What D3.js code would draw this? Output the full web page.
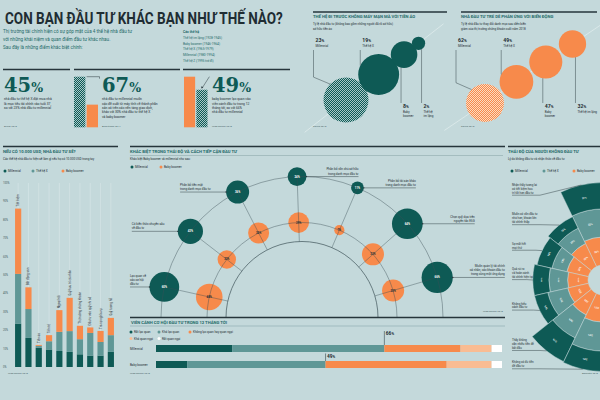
<!DOCTYPE html>
<html>
<head>
<meta charset="utf-8">
<script src="https://d3js.org/d3.v7.min.js"></script>
<style>
  body { margin: 0; background: #c4d9db; }
  svg { display: block; font-family: Roboto, 'Noto Sans', sans-serif; }
</style>
</head>
<body>
<svg id="chart" width="600" height="400"></svg>
<script>
'use strict'

// ---- data ----
const generations = ['Thế hệ im lặng (1928-1945)', 'Baby boomer (1946-1964)', 'Thế hệ X (1965-1979)', 'Millennial (1980-1994)', 'Thế hệ Z (1995 trở đi)']

const stats = ['45', '67', '49']
const statNotes = [
  'nhà đầu tư thế hệ X đặt mua nhà|là mục tiêu tài chính vào tuổi 37,|so với 23% nhà đầu tư millennial',
  'nhà đầu tư millennial muốn|các đề xuất từ máy tính về thành phần|sẵn có trên các nền tảng giao dịch,|khác với 30% nhà đầu tư thế hệ X|và baby boomer',
  'baby boomer lạc quan vào|viễn cảnh đầu tư trong 12|tháng tới, so với 66%|nhà đầu tư millennial'
]
const statSources = ['Zillow 2018', 'Ameritrade 2017', 'Legg Mason 2018']
const roboBars = [67, 30]
const optimismBars = [66, 49]

const bubbleGroups = ['Millennial', 'Thế hệ X', 'Baby|boomer', 'Thế hệ|im lặng']
const cryptoShare = [23, 19, 8, 2]
const reactShare = [62, 49, 47, 32]

const spendCats = ['Tiết kiệm', 'Bất động sản', 'Tiền ảo', 'Tiền tệ', 'Ngoại hối', 'Quỹ hưu trí cá nhân', 'Thị trường chứng khoán', 'Đầu tư vào quỹ chỉ số', 'Trả nợ nghĩa vụ', 'Quỹ tương hỗ']
const spendMillennial = [23.6, 15.8, 10.4, 9.5, 8.7, 8.2, 6.9, 6.2, 6.2, 8.2]
const spendGenX = [27, 15.7, 1.1, 4.5, 10.4, 11.3, 8.2, 12.3, 7.4, 9.1]
const spendBoomer = [35.5, 11.8, 0.5, 3.3, 11.8, 18.1, 7.3, 3.0, 6.0, 9.4]
const pctTicks = [0, 10, 20, 30, 40, 50, 60, 70, 80, 90, 100]

const attitudes = [
  'Lạc quan về|các cơ hội|đầu tư',
  'Có kiến thức chuyên sâu|về đầu tư',
  'Phân bổ tiền mặt|trong danh mục đầu tư',
  'Phân bổ vốn chủ sở hữu|trong danh mục đầu tư',
  'Phân bổ tài sản khác|trong danh mục đầu tư',
  'Chọn quỹ dựa trên|nguyên tắc ESG',
  'Muốn quản lý tài chính|cá nhân, các khoản đầu tư|trong cùng một ứng dụng'
]
const attMillennial = [60, 43, 36, 24, 11, 64, 66]
const attBoomer = [48, 23, 30, 29, 7, 33, 33]

const outlookLevels = ['Rất lạc quan', 'Khá lạc quan', 'Không lạc quan hay quan ngại', 'Khá quan ngại', 'Rất quan ngại']
const outlookRows = ['Millennial', 'Baby boomer']
const outlookMillennial = [22, 44, 22, 9, 3]
const outlookBoomer = [9, 40, 35, 13, 3]

const reasons = [
  'Nhận thấy tương lai|có tiết kiệm hưu|trí tốt hơn đầu tư',
  'Muốn có vốn đầu tư|nhỏ hơn, khoản lớn|tài chính thấp',
  'Sợ mất hết|mọi thứ',
  'Quá rủi ro|và hoàn cảnh|tài chính hiện tại',
  'Không hiểu|cách đầu tư',
  'Thấy không|cần nhiều tiền để|bắt đầu',
  'Không có đủ tiền|để đầu tư'
]
const reasonBoomer = [33, 30, 26, 24, 25, 28, 32]
const reasonGenX = [33, 20, 18, 22, 24, 30, 34]
const reasonMillennial = [31, 15, 18, 19, 16, 31, 24]

// ---- styles ----
const DARK = '#0e5a55'
const MID = '#5f9796'
const ORANGE = '#f78a4b'
const LIGHT = '#f9bc93'
const INK = '#1f2d33'
const TEAL_TXT = '#1f6a69'
const LINE = '#26353b'
const BG = '#c4d9db'

const svg = d3.select('#chart')
const defs = svg.append('defs')

function checker (id, base, dot) {
  const p = defs.append('pattern').attr('id', id).attr('width', 2).attr('height', 2).attr('patternUnits', 'userSpaceOnUse')
  p.append('rect').attr('width', 2).attr('height', 2).attr('fill', base)
  p.append('rect').attr('width', 1).attr('height', 1).attr('fill', dot)
  p.append('rect').attr('x', 1).attr('y', 1).attr('width', 1).attr('height', 1).attr('fill', dot)
}
checker('hatchTeal', DARK, '#a9c8c8')
checker('hatchOrange', ORANGE, '#fcdcc2')

function lines (g, x, y, txt, o) {
  const t = g.append('text').attr('x', x).attr('y', y)
    .attr('font-size', o.size).attr('fill', o.fill || INK)
    .attr('text-anchor', o.anchor || 'start')
    .attr('font-weight', o.weight || 400)
  txt.split('|').forEach((s, i) => t.append('tspan').attr('x', x).attr('dy', i ? o.lh : 0).text(s))
  return t
}

function rule (x, y, w, width, color) {
  svg.append('line').attr('x1', x).attr('x2', x + w).attr('y1', y).attr('y2', y)
    .attr('stroke', color || LINE).attr('stroke-width', width || 1.5)
}

function header (x, y, w, title, sub) {
  rule(x, y, w)
  svg.append('text').attr('x', x).attr('y', y + 6.1).attr('font-size', 4.2).attr('font-weight', 700)
    .attr('fill', TEAL_TXT).text(title)
  lines(svg, x, y + 13.3, sub, { size: 3, lh: 4.5 })
}

function legend (x, y, items) {
  items.forEach(it => {
    svg.append('circle').attr('cx', x + it.dx).attr('cy', y).attr('r', 1.5).attr('fill', it.color)
    svg.append('text').attr('x', x + it.dx + 3).attr('y', y + 1.1).attr('font-size', 3).attr('fill', INK).text(it.label)
  })
}

function source (x, y, txt, anchor) {
  svg.append('text').attr('x', x).attr('y', y).attr('font-size', 2.5).attr('fill', '#4a6568')
    .attr('text-anchor', anchor || 'start').text(txt)
}

// ---- title block ----
// squeeze the headline horizontally so it ends where the reference's does
const headline = svg.append('text').attr('x', 0).attr('y', 0).attr('font-size', 17).attr('font-weight', 700)
  .attr('fill', INK).text('CON BẠN ĐẦU TƯ KHÁC BẠN NHƯ THẾ NÀO?')
const natural = headline.node().getComputedTextLength()
headline.attr('transform', `translate(5,24) scale(${278 / natural},1)`)

lines(svg, 3, 32.5, 'Thị trường tài chính hiện có sự góp mặt của 4 thế hệ nhà đầu tư|với những khái niệm và quan điểm đầu tư khác nhau.|Sau đây là những điểm khác biệt chính:',
  { size: 4.6, lh: 8.3, fill: TEAL_TXT })
svg.append('text').attr('x', 183).attr('y', 33.3).attr('font-size', 3.4).attr('font-weight', 700)
  .attr('fill', TEAL_TXT).text('Các thế hệ')
lines(svg, 183, 39, generations.join('|'), { size: 3.2, lh: 5.65, fill: TEAL_TXT })

// ---- stat panels ----
function statPanel (i, x0, w, tx) {
  rule(x0, 69.5, w)
  const t = svg.append('text').attr('x', tx).attr('y', 92).attr('font-family', "'DejaVu Serif', serif")
    .attr('font-weight', 700).attr('fill', DARK)
  t.append('tspan').attr('font-size', 19.5).text(stats[i])
  t.append('tspan').attr('font-size', 12.5).text('%')
  lines(svg, tx, 100.3, statNotes[i], { size: 3.3, lh: 4.3 })
  source(tx, 126.5, statSources[i])
}
statPanel(0, 3, 67, 4)
statPanel(1, 74, 106, 102)
statPanel(2, 183, 107, 212)

function panelBars (vals, x0, x1, fills) {
  const bx = d3.scaleBand().domain(d3.range(vals.length)).range([x0, x1]).paddingInner(0.1)
  const h = d3.scaleLinear().domain([0, d3.max(vals)]).range([0, 50.6])
  svg.append('g').selectAll('rect').data(vals).join('rect')
    .attr('x', (d, i) => bx(i)).attr('width', bx.bandwidth())
    .attr('y', d => 127.3 - h(d)).attr('height', d => h(d))
    .attr('fill', (d, i) => fills[i])
  return { bx, h }
}
const p2 = panelBars(roboBars, 74, 98, ['url(#hatchTeal)', ORANGE])
const top2 = 127.3 - p2.h(roboBars[0])
svg.append('path').attr('d', `M${p2.bx(1)},${top2}H${99.5}v2`).attr('fill', 'none').attr('stroke', LINE).attr('stroke-width', 0.5)
const p3 = panelBars(optimismBars, 184, 207.5, [ORANGE, 'url(#hatchTeal)'])
const top3 = 127.3 - p3.h(optimismBars[1])
svg.append('path').attr('d', `M${p3.bx(1) + 13},${127.3 - p3.h(optimismBars[0])}L${p3.bx(1) + 6},${top3 - 2}`)
  .attr('fill', 'none').attr('stroke', LINE).attr('stroke-width', 0.5)
svg.append('path').attr('d', `M${p3.bx(1) + 4.6},${top3 - 3.2}l2.4,0.5l-1.6,1.8z`).attr('fill', LINE)

// ---- bubble charts ----
function bubbles (x0, w, title, sub, vals, color, hatch, start, deg, gap, maxR, src, oneLineLast) {
  header(x0, 12, w, title, sub)
  const r = d3.scaleSqrt().domain([0, d3.max(vals)]).range([0, maxR])
  const a = deg * Math.PI / 180
  const dir = [Math.cos(a), -Math.sin(a)]
  const pts = []
  vals.forEach((v, i) => {
    if (i === 0) pts.push({ x: start[0], y: start[1], r: r(v) })
    else {
      const p = pts[i - 1]
      const d = p.r + r(v) + gap
      pts.push({ x: p.x + d * dir[0], y: p.y + d * dir[1], r: r(v) })
    }
  })
  const f = pts[0]
  const l = pts[pts.length - 1]
  svg.append('line')
    .attr('x1', f.x - dir[0] * (f.r + 30)).attr('y1', f.y - dir[1] * (f.r + 30))
    .attr('x2', l.x + dir[0] * (l.r + 25)).attr('y2', l.y + dir[1] * (l.r + 25))
    .attr('stroke', '#e8f1f2').attr('stroke-width', 0.6)
  svg.append('g').selectAll('circle').data(pts).join('circle')
    .attr('cx', d => d.x).attr('cy', d => d.y).attr('r', d => d.r)
    .attr('fill', (d, i) => i === 0 ? hatch : color)

  const lead = svg.append('g').attr('fill', 'none').attr('stroke', LINE).attr('stroke-width', 0.45)
  pts.forEach((p, i) => {
    let lx, ly, path
    if (i === 0) {
      lx = p.x - p.r - 10; ly = 42
      path = `M${lx},${ly + 8}V${p.y - p.r * 0.75 - 6}L${p.x - p.r * 0.707},${p.y - p.r * 0.707}`
    } else if (i === 1) {
      lx = p.x - p.r * 0.9; ly = 42
      path = `M${lx},${ly + 8}V${p.y - p.r * 0.436}`
    } else {
      const dx = i === 2 ? -3 : 3
      lx = p.x + dx; ly = 108
      path = `M${lx},${p.y + Math.sqrt(p.r * p.r - dx * dx)}V${ly - 5}`
    }
    lead.append('path').attr('d', path)
    const t = svg.append('text').attr('x', lx + 2).attr('y', ly).attr('fill', INK).attr('font-weight', 700)
    t.append('tspan').attr('font-size', 5.2).text(vals[i])
    t.append('tspan').attr('font-size', 3.8).text('%')
    const name = (oneLineLast && i === 3) ? bubbleGroups[i].replace('|', ' ') : bubbleGroups[i]
    lines(svg, lx + 2, ly + 5, name, { size: 3, lh: 3.8 })
  })
  source(x0, 126.5, src)
}
bubbles(313, 134, 'THẾ HỆ ĐI TRƯỚC KHÔNG MẤY MẶN MÀ VỚI TIỀN ẢO',
  'Tỷ lệ nhà đầu tư (không bao gồm những người đã rõ sở hữu)|sở hữu tiền ảo',
  cryptoShare, DARK, 'url(#hatchTeal)', [346, 100], 38, -1.5, 22.5, 'Gallup 2018', false)
bubbles(461, 136, 'NHÀ ĐẦU TƯ TRẺ DỄ PHẢN ỨNG VỚI BIẾN ĐỘNG',
  'Tỷ lệ nhà đầu tư thay đổi danh mục sau diễn biến|giảm của thị trường chứng khoán cuối năm 2018',
  reactShare, ORANGE, 'url(#hatchOrange)', [485, 103], 34, 2, 19, 'Gallup 2018', true)

// ---- stacked bars: 10.000 USD ----
header(3, 146.5, 115, 'NẾU CÓ 10.000 USD, NHÀ ĐẦU TƯ SẼ?', 'Các thế hệ nhà đầu tư hiện sẽ làm gì nếu họ có 10.000 USD trong tay')
legend(3, 171, [{ label: 'Millennial', color: DARK, dx: 2 }, { label: 'Thế hệ X', color: MID, dx: 30 }, { label: 'Baby boomer', color: ORANGE, dx: 60 }])
const catX = d3.scaleBand().domain(spendCats).range([13, 116]).paddingInner(0.4).paddingOuter(0.2)
const pctY = d3.scaleLinear().domain([0, 100]).range([367, 183])
const spendRows = spendCats.map((c, i) => ({ cat: c, m: spendMillennial[i], x: spendGenX[i], b: spendBoomer[i] }))
const spendStack = d3.stack().keys(['m', 'x', 'b'])(spendRows)
const barCol = { m: DARK, x: MID, b: ORANGE }

svg.append('g').selectAll('line').data(spendCats).join('line')
  .attr('x1', d => catX(d) + catX.bandwidth() / 2).attr('x2', d => catX(d) + catX.bandwidth() / 2)
  .attr('y1', pctY(0)).attr('y2', pctY(100)).attr('stroke', '#dce9ea').attr('stroke-width', 0.5)
svg.append('g').selectAll('text').data(pctTicks).join('text')
  .attr('x', 3).attr('y', d => pctY(d) + 1).attr('font-size', 2.7).attr('fill', '#44605f').text(d => d + '%')
svg.append('g').selectAll('g').data(spendStack).join('g').attr('fill', s => barCol[s.key])
  .selectAll('rect').data(s => s).join('rect')
  .attr('x', d => catX(d.data.cat)).attr('width', catX.bandwidth())
  .attr('y', d => pctY(d[1])).attr('height', d => pctY(d[0]) - pctY(d[1]))
svg.append('g').selectAll('text').data(spendRows).join('text')
  .attr('transform', d => `translate(${catX(d.cat) + catX.bandwidth() / 2 + 1},${pctY(d.m + d.x + d.b) - 2}) rotate(-90)`)
  .attr('font-size', 3).attr('fill', INK).text(d => d.cat)
source(8, 374, 'Legg Mason 2018')

// ---- attitude arcs ----
header(130, 146.5, 375, 'KHÁC BIỆT TRONG THÁI ĐỘ VÀ CÁCH TIẾP CẬN ĐẦU TƯ', 'Khác biệt Baby boomer và millennial như sau:')
rule(130, 155.5, 373, 0.6, '#8eaaac')
legend(130, 167, [{ label: 'Millennial', color: DARK, dx: 2 }, { label: 'Baby boomer', color: ORANGE, dx: 31 }])

const ac = { x: 302, y: 317.5 }
const ringR = [76, 95, 141]
const angle = d3.scalePoint().domain(attitudes).range([167.5, 16.5])
const bubbleR = d3.scaleSqrt().domain([0, 100]).range([0, 19.2])
const pos = (d, r) => {
  const a = angle(d) * Math.PI / 180
  return [ac.x + r * Math.cos(a), ac.y - r * Math.sin(a)]
}
const arcG = svg.append('g')
attitudes.forEach((d, i) => {
  const [mx, my] = pos(d, ringR[2])
  const [bx, by] = pos(d, ringR[1])
  arcG.append('circle').attr('cx', mx).attr('cy', my).attr('r', bubbleR(attMillennial[i])).attr('fill', DARK)
  arcG.append('circle').attr('cx', bx).attr('cy', by).attr('r', bubbleR(attBoomer[i])).attr('fill', ORANGE)
})
ringR.forEach((r, i) => {
  const p = d3.path()
  p.moveTo(ac.x - r, ac.y)
  p.arc(ac.x, ac.y, r, Math.PI, 2 * Math.PI)
  arcG.append('path').attr('d', p.toString()).attr('fill', 'none')
    .attr('stroke', '#3a4f55').attr('stroke-width', i === 0 ? 0.8 : 0.5).attr('opacity', 0.85)
})
attitudes.forEach(d => {
  const [x1, y1] = pos(d, ringR[2])
  const [x2, y2] = pos(d, ringR[0])
  arcG.append('line').attr('x1', x1).attr('y1', y1).attr('x2', x2).attr('y2', y2)
    .attr('stroke', '#3a4f55').attr('stroke-width', 0.5).attr('opacity', 0.8)
})
attitudes.forEach((d, i) => {
  const [mx, my] = pos(d, ringR[2])
  const [bx, by] = pos(d, ringR[1])
  arcG.append('text').attr('x', mx).attr('y', my + 1).attr('text-anchor', 'middle').attr('font-size', 2.8)
    .attr('font-weight', 700).attr('fill', '#fff').text(attMillennial[i] + '%')
  arcG.append('text').attr('x', bx).attr('y', by + 1).attr('text-anchor', 'middle').attr('font-size', 2.8)
    .attr('font-weight', 700).attr('fill', INK).text(attBoomer[i] + '%')
  const r = bubbleR(attMillennial[i])
  const n = d.split('|').length
  const left = angle(d) > 100
  const tx = left ? Math.max(130, mx - r - 46) : mx + r + 52
  arcG.append('line').attr('x1', tx).attr('x2', left ? mx - r : mx + r).attr('y1', my).attr('y2', my)
    .attr('stroke', LINE).attr('stroke-width', 0.45)
  arcG.append('circle').attr('cx', left ? mx - r : mx + r).attr('cy', my).attr('r', 0.7).attr('fill', LINE)
  lines(arcG, tx, my - 2 - (n - 1) * 4.2, d, { size: 3, lh: 4.2, anchor: left ? 'start' : 'end' })
})
source(503, 312, 'Legg Mason 2018', 'end')

// ---- outlook bars ----
rule(130, 317.5, 375, 1.5)
svg.append('text').attr('x', 131).attr('y', 323.6).attr('font-size', 4.2).attr('font-weight', 700)
  .attr('fill', TEAL_TXT).text('VIỄN CẢNH CƠ HỘI ĐẦU TƯ TRONG 12 THÁNG TỚI')
rule(130, 326, 375, 0.5, '#7f9ea0')
const outlookCol = [DARK, MID, ORANGE, LIGHT, '#ffffff']
legend(129, 332, outlookLevels.slice(0, 3).map((l, i) => ({ label: l, color: outlookCol[i], dx: [2, 30, 61][i] })))
legend(129, 338.5, outlookLevels.slice(3).map((l, i) => ({ label: l, color: outlookCol[i + 3], dx: [2, 30][i] })))
const ox = d3.scaleLinear().domain([0, 100]).range([156, 502])
const oy = d3.scalePoint().domain(outlookRows).range([345, 361])
const outlookData = [outlookMillennial, outlookBoomer]
outlookRows.forEach((row, r) => {
  const vals = outlookData[r]
  const ends = d3.cumsum(vals)
  const y = oy(row)
  svg.append('g').selectAll('rect').data(vals).join('rect')
    .attr('x', (d, i) => ox(ends[i] - d)).attr('width', d => ox(d) - ox(0))
    .attr('y', y).attr('height', 7).attr('fill', (d, i) => outlookCol[i])
  svg.append('text').attr('x', 130).attr('y', y + 4.6).attr('font-size', 3).attr('fill', INK).text(row)
  const pos2 = ends[1]
  const up = r === 0 ? 14 : 7.5
  svg.append('line').attr('x1', ox(pos2)).attr('x2', ox(pos2)).attr('y1', y - up).attr('y2', y)
    .attr('stroke', INK).attr('stroke-width', 0.5)
  const t = svg.append('text').attr('x', ox(pos2) + 1.5).attr('y', y - up + 4).attr('fill', INK).attr('font-weight', 700)
  t.append('tspan').attr('font-size', 4.8).text(pos2)
  t.append('tspan').attr('font-size', 3.6).text('%')
})
source(130, 374, 'Legg Mason 2018')

// ---- non-investor radial ----
header(508, 146.5, 92, 'THÁI ĐỘ CỦA NGƯỜI KHÔNG ĐẦU TƯ', 'Lý do không đầu tư và nhận thức về đầu tư')
legend(508, 171, [{ label: 'Millennial', color: DARK, dx: 4 }, { label: 'Thế hệ X', color: MID, dx: 36 }, { label: 'Baby boomer', color: ORANGE, dx: 66 }])
const rc = { x: 603, y: 280 }
const wedgeA = d3.scaleBand().domain(reasons).range([2 * Math.PI, Math.PI])
const wedgeR = d3.scaleLinear().domain([0, 100]).range([15, 100])
const radG = svg.append('g').attr('transform', `translate(${rc.x},${rc.y})`)
const labG = svg.append('g')
let nextTop = 186
reasons.forEach((d, i) => {
  const a0 = wedgeA(d)
  const a1 = a0 + wedgeA.bandwidth()
  const parts = [[reasonBoomer[i], ORANGE], [reasonGenX[i], MID], [reasonMillennial[i], DARK]]
  let acc = 0
  parts.forEach(([v, c]) => {
    const arc = d3.arc().innerRadius(wedgeR(acc)).outerRadius(wedgeR(acc + v)).startAngle(a0).endAngle(a1)
    radG.append('path').attr('d', arc()).attr('fill', c).attr('stroke', BG).attr('stroke-width', 0.5)
    const [cx, cy] = arc.centroid()
    const deg = (a0 + a1) / 2 * 180 / Math.PI
    radG.append('text').attr('transform', `translate(${cx},${cy}) rotate(${deg})`).attr('text-anchor', 'middle')
      .attr('dy', 1).attr('font-size', 2.5).attr('font-weight', 700).attr('fill', '#fff').text(v + '%')
    acc += v
  })
  const mid = (a0 + a1) / 2
  const R = wedgeR(acc)
  const px = rc.x + R * Math.sin(mid)
  const py = rc.y - R * Math.cos(mid)
  const n = d.split('|').length
  let first = py - 2 - (n - 1) * 3.8
  if (first < nextTop) first = nextTop
  const bottom = first + (n - 1) * 3.8 + 1.6
  nextTop = bottom + 7
  labG.append('path').attr('d', `M512,${bottom}H${Math.min(px - 6, 540)}L${px},${py}`)
    .attr('fill', 'none').attr('stroke', LINE).attr('stroke-width', 0.45)
  lines(labG, 512, first, d, { size: 2.9, lh: 3.8 })
})
source(598, 374, 'Bankrate 2018', 'end')
</script>
</body>
</html>
